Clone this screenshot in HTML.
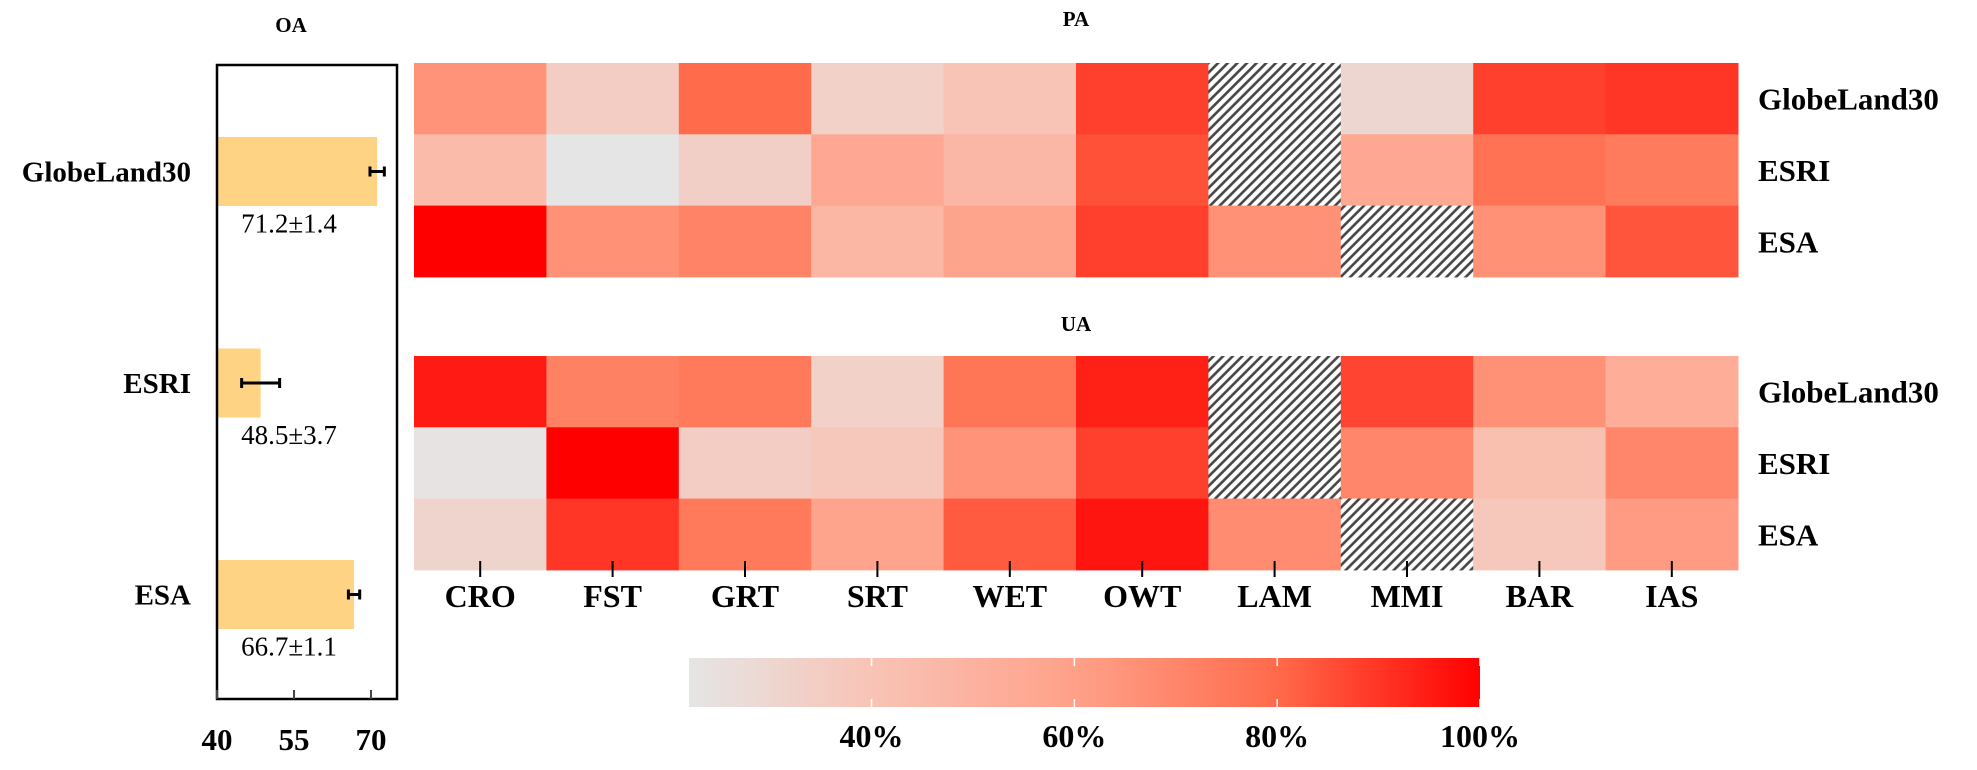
<!DOCTYPE html>
<html><head><meta charset="utf-8"><style>
html,body{margin:0;padding:0;background:#fff;}
svg{display:block;font-family:"Liberation Serif",serif;}
</style></head><body>
<svg id="chart" width="1977" height="770" viewBox="0 0 1977 770" xmlns="http://www.w3.org/2000/svg">
<defs>
<pattern id="hatch" patternUnits="userSpaceOnUse" width="6.8" height="6.8" patternTransform="rotate(45)">
<rect width="6.8" height="6.8" fill="#fff"/>
<line x1="1.5" y1="0" x2="1.5" y2="6.8" stroke="#444" stroke-width="2.6"/>
</pattern>
<linearGradient id="cbgrad" x1="0" x2="1" y1="0" y2="0"></linearGradient>
</defs>
<g id="oa"></g>
<g id="heat"></g>
<g id="cbar"></g>
</svg>
<script>
const products = ["GlobeLand30","ESRI","ESA"];
const oaValues = [71.2, 48.5, 66.7];
const oaErrors = [1.4, 3.7, 1.1];
const oaTicks = [40, 55, 70];
const classes = ["CRO","FST","GRT","SRT","WET","OWT","LAM","MMI","BAR","IAS"];
const paValues = [
  [65,35,80,33,40,88,null,30,88,90],
  [45,22,34,56,47,85,null,56,77,74],
  [100,66,71,48,58,88,66,null,66,84]
];
const uaValues = [
  [95,72,75,33,76,94,null,87,66,53],
  [23,100,35,38,65,88,null,70,43,70],
  [31,90,75,58,83,96,68,null,38,62]
];
const cbTicks = [40,60,80,100];
const cbMin = 22, cbMax = 100;

const NS="http://www.w3.org/2000/svg";
function mk(tag, attrs, parent){const e=document.createElementNS(NS,tag);for(const k in attrs)e.setAttribute(k,attrs[k]);parent.appendChild(e);return e;}

const stops=[[0,[229,229,229]],[0.23,[248,196,182]],[0.49,[255,160,136]],[0.74,[255,108,76]],[1,[255,0,0]]];
function cmap(v){let t=(v-cbMin)/(cbMax-cbMin);t=Math.max(0,Math.min(1,t));
 for(let i=1;i<stops.length;i++){if(t<=stops[i][0]){const a=stops[i-1],b=stops[i];const f=(t-a[0])/(b[0]-a[0]);
 const c=a[1].map((x,j)=>Math.round(x+(b[1][j]-x)*f));return `rgb(${c[0]},${c[1]},${c[2]})`;}}return "rgb(255,0,0)";}

// ---- OA panel ----
const oa=document.getElementById('oa');
const bx0=217,bx1=397,by0=65,by1=699;
const xOA=v=>bx0+(v-40)*(77/15);
const rowCenters=[171.5,383,594.5];
let t=mk('text',{x:291,y:32,'text-anchor':'middle','font-weight':'bold','font-size':21},oa);t.textContent="OA";

products.forEach((p,i)=>{
 const cy=rowCenters[i];
 const r=mk('rect',{x:bx0,y:cy-34.5,width:xOA(oaValues[i])-bx0,height:69,fill:'#fed384'},oa);
 
 
 const g=mk('g',{stroke:'#000','stroke-width':3},oa);
 
 
 const e0=xOA(oaValues[i]-oaErrors[i]),e1=xOA(oaValues[i]+oaErrors[i]);
 mk('line',{x1:e0,y1:cy,x2:e1,y2:cy},g);mk('line',{x1:e0,y1:cy-5,x2:e0,y2:cy+5},g);mk('line',{x1:e1,y1:cy-5,x2:e1,y2:cy+5},g);
 const lt=mk('text',{x:191,y:cy+10,'text-anchor':'end','font-weight':'bold','font-size':29},oa);lt.textContent=p;
 
 
 const vt=mk('text',{x:289,y:cy+61,'text-anchor':'middle','font-size':27},oa);vt.textContent=oaValues[i].toFixed(1)+"±"+oaErrors[i].toFixed(1);
 
 
});
const box=mk('rect',{x:bx0,y:by0,width:bx1-bx0,height:by1-by0,fill:'none',stroke:'#000','stroke-width':2.5},oa);

oaTicks.forEach(v=>{
 const x=xOA(v);
 const tk=mk('line',{x1:x,y1:by1,x2:x,y2:by1-9,stroke:'#444','stroke-width':2},oa);
 
 const tl=mk('text',{x:x,y:750,'text-anchor':'middle','font-weight':'bold','font-size':31},oa);tl.textContent=v;
 
});

// ---- heatmaps ----
const heat=document.getElementById('heat');
const hx0=414,hx1=1738,cw=(hx1-hx0)/classes.length,rh=71.3;
function drawHeat(vals,top,name,title,titleY){
 const tt=mk('text',{x:(hx0+hx1)/2,y:titleY,'text-anchor':'middle','font-weight':'bold','font-size':21},heat);tt.textContent=title;
 
 vals.forEach((row,i)=>{
  row.forEach((v,j)=>{
   const c=mk('rect',{x:hx0+j*cw,y:top+i*rh,width:cw+0.5,height:rh+0.5,fill:v===null?'url(#hatch)':cmap(v)},heat);
   
   
  });
  const lt=mk('text',{x:1758,y:top+i*rh+rh/2+11,'font-weight':'bold','font-size':31},heat);lt.textContent=products[i];
  
 });
}
drawHeat(paValues,63,'pa',"PA",26);
drawHeat(uaValues,356,'ua',"UA",331);
classes.forEach((c,j)=>{
 const x=hx0+(j+0.5)*cw;
 const tk=mk('line',{x1:x,y1:561,x2:x,y2:577,stroke:'#000','stroke-width':2},heat);
 
 const tl=mk('text',{x:x,y:607,'text-anchor':'middle','font-weight':'bold','font-size':32},heat);tl.textContent=c;
 
});

// ---- colorbar ----
const grad=document.getElementById('cbgrad');
for(let k=0;k<=20;k++){const v=cbMin+(cbMax-cbMin)*k/20;mk('stop',{offset:(k/20),'stop-color':cmap(v)},grad);}
const cb=document.getElementById('cbar');
const cx0=689,cx1=1480;
const xCB=v=>cx0+(v-cbMin)/(cbMax-cbMin)*(cx1-cx0);
const cr=mk('rect',{x:cx0,y:658,width:cx1-cx0,height:49,fill:'url(#cbgrad)'},cb);

cbTicks.forEach(v=>{
 const x=xCB(v);
 const tk=mk('line',{x1:x,y1:658,x2:x,y2:666,stroke:'#fff','stroke-width':1.5},cb);
 
 const tk2=mk('line',{x1:x,y1:699,x2:x,y2:707,stroke:'#fff','stroke-width':1.5},cb);
 
 const tl=mk('text',{x:x,y:747,'text-anchor':'middle','font-weight':'bold','font-size':32},cb);tl.textContent=v+"%";
 
});
</script>
</body></html>
